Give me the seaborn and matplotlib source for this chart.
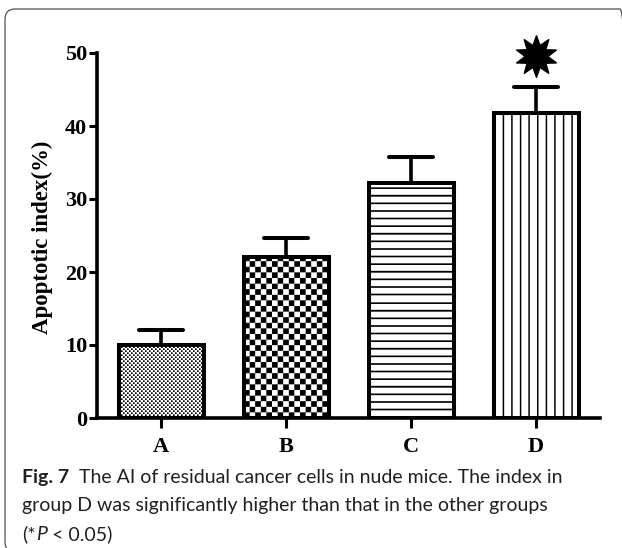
import numpy as np
import matplotlib
matplotlib.use("Agg")
import matplotlib.pyplot as plt
from matplotlib.patches import FancyBboxPatch
from matplotlib.transforms import IdentityTransform
from matplotlib.markers import MarkerStyle
import seaborn as sns

# ---- data ----
groups = ["A", "B", "C", "D"]
values = [10.0, 22.0, 32.2, 41.8]
errors = [2.1, 2.6, 3.6, 3.6]
yticks = [0, 10, 20, 30, 40, 50]
star_groups = ["D"]
star_values = [49.6]
ylabel = "Apoptotic index(%)"

W, H = 622, 548
sns.set_theme(style="white")
serif = ["Liberation Serif", "DejaVu Serif"]

fig = plt.figure(figsize=(W / 100, H / 100), dpi=100)
ax = fig.add_axes([97 / W, 1 - 418 / H, (600 - 97) / W, (418 - 53) / H])

sns.barplot(x=groups, y=values, color="white", edgecolor="black",
            linewidth=2.9, width=0.68, errorbar=None, ax=ax, saturation=1)

ax.set_xlim(-0.512, 3.512)
ax.set_ylim(0, 50)

xpos = np.arange(len(groups))
eb = ax.errorbar(xpos, values, yerr=[np.zeros(len(values)), errors], fmt="none",
                 ecolor="black", elinewidth=2.6, capsize=16, capthick=2.9, zorder=1)
eb[1][0].set_visible(False)
for cl in eb[1][1:]:
    cl.set_marker(MarkerStyle("_", capstyle="round"))


def pattern(kind, wpx, hpx, ss=6):
    """Fill pattern (1 = black) sampled at pixel resolution with supersampling."""
    xs = (np.arange(wpx * ss) + 0.5) / ss
    ys = (np.arange(hpx * ss) + 0.5) / ss
    X, Y = np.meshgrid(xs, ys)
    if kind == "fine":
        cell, sq = 2.0, 1.7
        m = ((np.floor(X / cell) + np.floor(Y / cell)) % 2 == 0) & \
            ((X % cell) < sq) & ((Y % cell) < sq)
    elif kind == "checker":
        cell = 5.6
        m = (np.floor(X / cell) + np.floor(Y / cell)) % 2 == 0
    elif kind == "hlines":
        m = (Y % 7.6) < 1.7
    else:  # vlines
        m = ((X - 8.6) % 8.6) < 1.5
    m = m.astype(float)
    return m.reshape(hpx, ss, wpx, ss).mean(axis=(1, 3))


kinds = ["fine", "checker", "hlines", "vlines"]
for p, kind in zip(list(ax.patches), kinds):
    p.set_zorder(3)
    p.set_joinstyle("miter")
    p.set_facecolor("none")
    x0, y0 = p.get_x(), p.get_y()
    x1, y1 = x0 + p.get_width(), y0 + p.get_height()
    (px0, py0), (px1, py1) = ax.transData.transform([(x0, y0), (x1, y1)])
    wpx, hpx = int(round(px1 - px0)), int(round(py1 - py0))
    arr = pattern(kind, wpx, hpx)
    im = ax.imshow(arr, cmap="gray_r", vmin=0, vmax=1, origin="lower",
                   extent=(x0, x1, y0, y1), interpolation="nearest",
                   aspect="auto", zorder=2)
    im.set_clip_path(p)

ax.set_xlim(-0.512, 3.512)
ax.set_ylim(0, 50)

# significance star
verts = []
for k in range(20):
    a = np.pi / 2 + k * np.pi / 10
    r = 1.0 if k % 2 == 0 else 0.55
    verts.append((r * np.cos(a), r * np.sin(a)))
verts.append(verts[0])
ax.plot([groups.index(g) for g in star_groups], star_values, linestyle="none",
        marker=verts, markersize=30, color="black", clip_on=False, zorder=5)

# axes styling
sns.despine(ax=ax, top=True, right=True)
for s in ["left", "bottom"]:
    ax.spines[s].set_linewidth(2.6)
    ax.spines[s].set_color("black")
ax.set_yticks(yticks)
ax.set_yticklabels([str(t) for t in yticks])
ax.tick_params(axis="y", direction="out", length=6, width=2.2, pad=1,
               left=True, colors="black")
ax.tick_params(axis="x", direction="out", length=7, width=2.2, pad=7,
               bottom=True, colors="black")
for lab in ax.get_xticklabels() + ax.get_yticklabels():
    lab.set_fontfamily(serif)
    lab.set_fontweight("bold")
    lab.set_fontsize(16)
ax.set_xlabel("")
ax.set_ylabel(ylabel, family=serif, fontweight="bold", fontsize=16.5,
              color="black", va="center", ha="center")
ax.yaxis.set_label_coords((42 - 97) / (600 - 97), (418 - 237) / (418 - 53))

# border box
box = FancyBboxPatch((5, -4), 625, 543, boxstyle="round,pad=0,rounding_size=10",
                     transform=IdentityTransform(), fill=False,
                     edgecolor="#3a3a3a", linewidth=0.8)
fig.patches.append(box)

# caption
renderer = fig.canvas.get_renderer()
cap_fam = ["Liberation Sans Narrow", "Lato", "DejaVu Sans"]
cap_size = 14.0


def runs(x_px, base_px, pieces):
    x = x_px
    for txt, kw in pieces:
        t = fig.text(x / W, 1 - base_px / H, txt, ha="left", va="baseline",
                     family=cap_fam, fontsize=cap_size, color="#231f20", **kw)
        x = t.get_window_extent(renderer).x1


runs(22, 483, [("Fig. 7", {"fontweight": "bold"}),
               ("  The AI of residual cancer cells in nude mice. The index in", {})])
runs(22, 511.5, [("group D was significantly higher than that in the other groups", {})])
runs(22, 540, [("(*", {}), ("P", {"style": "italic"}), (" < 0.05)", {})])

fig.savefig("out.png", dpi=100)
